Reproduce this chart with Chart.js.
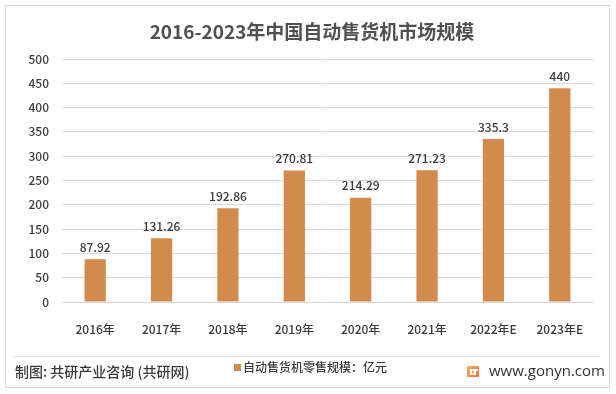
<!DOCTYPE html>
<html>
<head>
<meta charset="utf-8">
<script src="https://cdn.jsdelivr.net/npm/chart.js@4"></script>
<style>
  html, body { margin: 0; padding: 0; background: #fff; }
  #wrap { width: 616px; height: 394px; position: relative; }
</style>
</head>
<body>
<div id="wrap"><canvas id="chart" width="616" height="394"></canvas></div>
<script>
const FONT = '"Noto Sans CJK SC", "Noto Sans", sans-serif';

// chart data
const titleText = "2016-2023年中国自动售货机市场规模";
const categories = ["2016年", "2017年", "2018年", "2019年", "2020年", "2021年", "2022年E", "2023年E"];
const marketSize = [87.92, 131.26, 192.86, 270.81, 214.29, 271.23, 335.3, 440];
const seriesName = "自动售货机零售规模：亿元";
const yTicks = [0, 50, 100, 150, 200, 250, 300, 350, 400, 450, 500];
const sourceText = "制图: 共研产业咨询 (共研网)";
const siteText = "www.gonyn.com";

const barColor = "#D38B4D";
const textColor = "#3a3a3a";

// frame, title, data labels and footer
const decorPlugin = {
    id: 'decor',
    beforeDraw(chart) {
        const ctx = chart.ctx;
        ctx.save();
        ctx.fillStyle = '#fff';
        ctx.fillRect(0, 0, chart.width, chart.height);
        ctx.strokeStyle = '#d9d9d9';
        ctx.lineWidth = 1;
        ctx.strokeRect(5.5, 5.5, 604, 382);
        ctx.restore();
    },
    afterDraw(chart) {
        const ctx = chart.ctx;
        ctx.save();

        // title
        ctx.fillStyle = '#505050';
        ctx.font = 'bold 19px ' + FONT;
        ctx.textAlign = 'center';
        ctx.textBaseline = 'middle';
        ctx.fillText(titleText, 312, 32);

        // value labels
        const meta = chart.getDatasetMeta(0);
        ctx.font = '500 12px ' + FONT;
        ctx.fillStyle = textColor;
        ctx.textBaseline = 'bottom';
        meta.data.forEach((bar, i) => {
            ctx.fillText(String(marketSize[i]), bar.x, bar.y - 6);
        });

        // footer separator
        ctx.strokeStyle = '#e3e3e3';
        ctx.beginPath();
        ctx.moveTo(13, 356.5);
        ctx.lineTo(599, 356.5);
        ctx.stroke();

        // source
        ctx.textAlign = 'left';
        ctx.textBaseline = 'middle';
        ctx.fillStyle = textColor;
        ctx.font = '500 14px ' + FONT;
        ctx.fillText(sourceText, 15, 372);

        // legend
        ctx.fillStyle = barColor;
        ctx.fillRect(234, 364, 7, 7);
        ctx.fillStyle = textColor;
        ctx.font = '500 12px ' + FONT;
        ctx.fillText(seriesName, 243, 367);

        // logo
        const g = ctx.createLinearGradient(467, 366, 479, 377);
        g.addColorStop(0, '#F7B26A');
        g.addColorStop(1, '#EE6F3A');
        ctx.fillStyle = g;
        ctx.fillRect(467, 366, 12, 11);
        ctx.fillStyle = '#fff';
        ctx.fillRect(470, 369, 8, 2);
        ctx.fillRect(470, 369, 2, 6);
        ctx.fillRect(470, 373, 6, 2);
        ctx.fillRect(474, 371, 2, 3);

        ctx.fillStyle = '#333';
        ctx.font = '15px "Open Sans", sans-serif';
        ctx.fillText(siteText, 489, 372);

        ctx.restore();
    }
};

new Chart(document.getElementById('chart'), {
    type: 'bar',
    data: {
        labels: categories,
        datasets: [{
            label: seriesName,
            data: marketSize,
            backgroundColor: barColor,
            categoryPercentage: 1.0,
            barPercentage: 0.32
        }]
    },
    options: {
        responsive: false,
        animation: false,
        layout: { padding: { top: 59, right: 23, bottom: 0, left: 0 } },
        plugins: {
            legend: { display: false },
            tooltip: { enabled: false }
        },
        scales: {
            x: {
                grid: { display: false },
                border: { display: false },
                ticks: {
                    color: textColor,
                    font: { family: FONT, size: 12, weight: '500' },
                    padding: 12,
                    maxRotation: 0
                },
                afterFit: (scale) => { scale.height = 92; }
            },
            y: {
                min: 0,
                max: 500,
                afterBuildTicks: (scale) => { scale.ticks = yTicks.map(v => ({ value: v })); },
                grid: { color: '#d9d9d9', drawTicks: false },
                border: { display: false },
                ticks: {
                    color: textColor,
                    font: { family: FONT, size: 12, weight: '500' },
                    padding: 13
                },
                afterFit: (scale) => { scale.width = 62; }
            }
        }
    },
    plugins: [decorPlugin]
});
</script>
</body>
</html>
